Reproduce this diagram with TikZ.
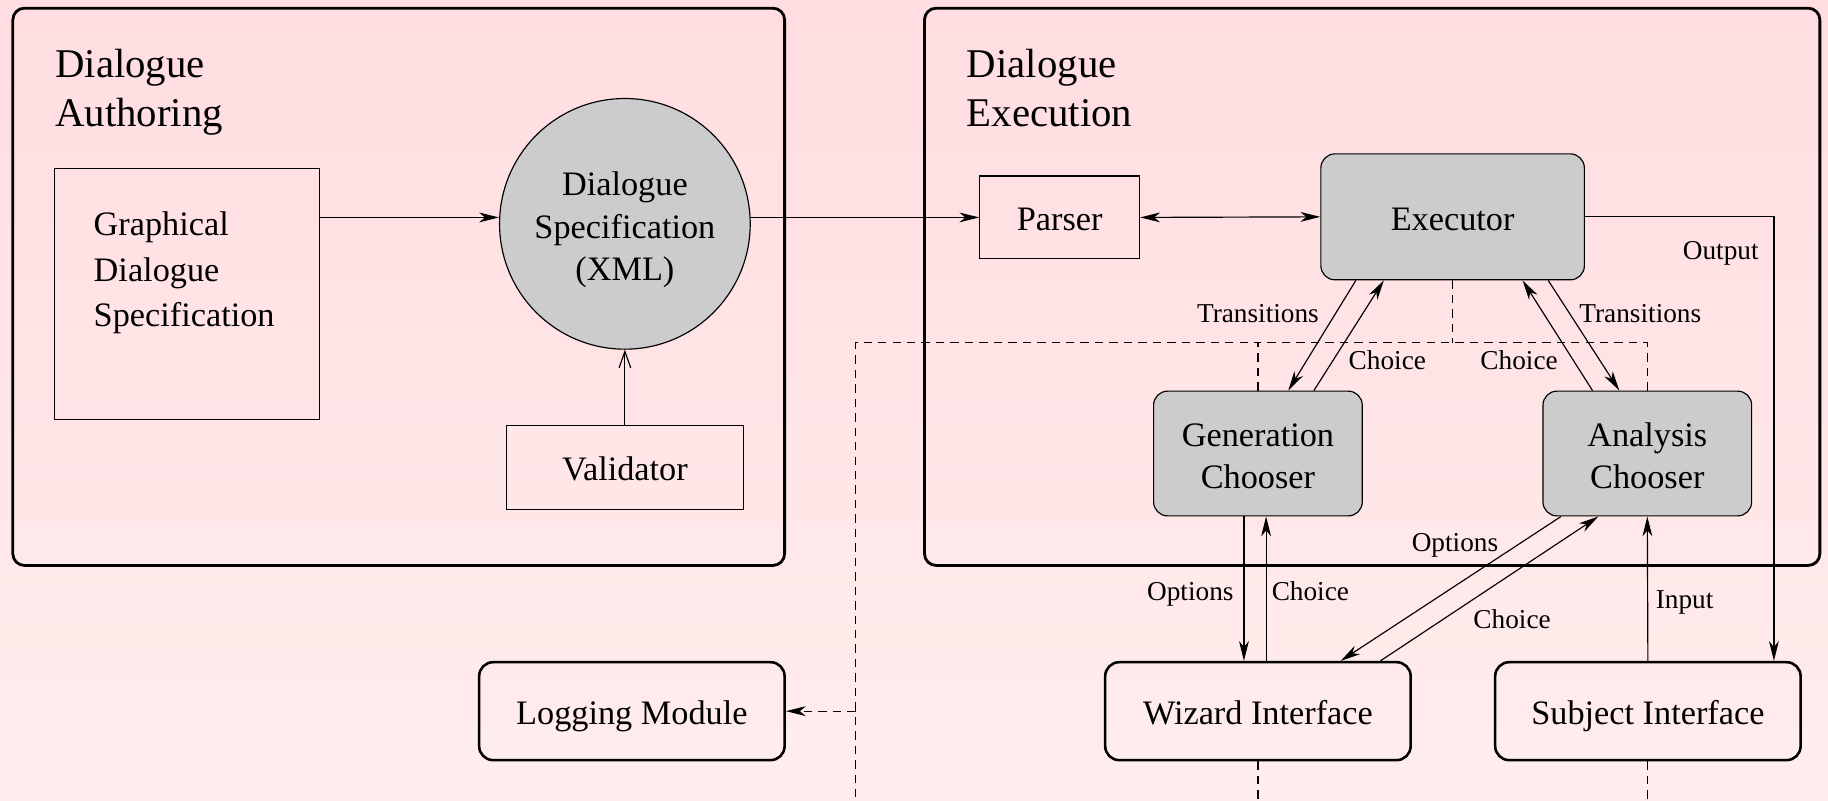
\documentclass[tikz,border=0pt]{standalone}
\usepackage{fontspec}
\setmainfont{Liberation Serif}
\usetikzlibrary{shapes.geometric,arrows.meta}
\usepackage{xcolor}
\definecolor{chgray}{RGB}{204,204,204}
\definecolor{bgtop}{RGB}{255,221,224}
\definecolor{bgbot}{RGB}{255,237,237}

\begin{document}
\begin{tikzpicture}
    \tikzset{
        x=0.5pt,
        y=-0.5pt,
        >={Stealth[length=8.5pt,width=4.2pt,inset=2.5pt]},
        panel/.style={draw,line width=1.2pt,rounded corners=5pt},
        title/.style={anchor=north west,align=left,inner sep=0pt,
            font=\fontsize{17.5}{21}\selectfont},
        plain/.style={draw,line width=0.5pt,inner sep=0pt,
            font=\fontsize{14.7}{18.5}\selectfont},
        oneline/.style={text height=14pt,text depth=2.6pt},
        chooser/.style={plain,fill=chgray,rounded corners=6pt,align=center,
            minimum width=89.5pt,minimum height=53.5pt,
            font=\fontsize{14.7}{17.75}\selectfont},
        iface/.style={plain,oneline,line width=1.1pt,rounded corners=6pt,
            minimum width=131pt,minimum height=42pt},
        lbl/.style={inner sep=0pt,text depth=0pt,font=\fontsize{11.7}{14}\selectfont},
        conn/.style={->,line width=0.5pt},
        logline/.style={dash pattern=on 3.6pt off 2.6pt,line width=0.5pt}
    }
    \useasboundingbox (0,0) rectangle (1568,687);
    \shade[top color=bgtop,bottom color=bgbot] (0,0) rectangle (1568,687);
    % the two panels
    \draw[panel] (11,7) rectangle (673,485);
    \draw[panel] (793,7) rectangle (1561,485);
    \node[title] (authttl) at (47,42) {Dialogue\\Authoring};
    \node[title] (execttl) at (829,42) {Dialogue\\Execution};

    \node[plain,minimum width=113.5pt,minimum height=107.5pt] (graph) at (160.5,252) {};
    \node[anchor=west,align=left,inner sep=0pt,font=\fontsize{14.7}{19.6}\selectfont]
        (graphtxt) at (80,234) {Graphical\\Dialogue\\Specification};
    \node[plain,circle,fill=chgray,minimum size=107.5pt,align=center,
        font=\fontsize{14.7}{18.2}\selectfont] (spec)
        at (536,192) {\rule{0pt}{15.6pt}Dialogue\\Specification\\(XML)};
    \node[plain,oneline,minimum width=101.5pt,minimum height=36pt] (valid) at (536,401) {Validator};
    \node[plain,oneline,minimum width=68.5pt,minimum height=35.5pt] (parser) at (909,186.5) {Parser};
    \node[chooser,oneline,minimum width=113pt,minimum height=54pt] (exec) at (1246,186) {Executor};
    \node[chooser] (gen) at (1079,389) {\rule{0pt}{12pt}Generation\\Chooser};
    \node[chooser] (ana) at (1413,389) {\rule{0pt}{12pt}Analysis\\Chooser};
    \node[iface] (log) at (542,610) {Logging Module};
    \node[iface] (wiz) at (1079,610) {Wizard Interface};
    \node[iface] (subj) at (1413.5,610) {Subject Interface};

    % labels
    \node[lbl] (transl) at (1079,269) {Transitions};
    \node[lbl] (choicel) at (1190,309) {Choice};
    \node[lbl] (transr) at (1407,269) {Transitions};
    \node[lbl] (choicer) at (1303,309) {Choice};
    \node[lbl] (outlbl) at (1476,215) {Output};
    \node[lbl] (optg) at (1021,507) {Options};
    \node[lbl] (choiceg) at (1124,507) {Choice};
    \node[lbl] (opta) at (1248,465) {Options};
    \node[lbl] (choicea) at (1297,531) {Choice};
    \node[lbl] (inlbl) at (1445,514) {Input};

    % connectors
    \draw[conn] (graph.east |- parser) -- (spec.west |- parser);
    \draw[-{Straight Barb[length=7pt,width=5pt]},line width=0.5pt] (valid.north) -- (spec.south);
    \draw[conn] (spec.east |- parser) -- (parser.west);
    \draw[conn,<->] (parser.east) -- (exec.west);
    \draw[conn] ([xshift=-41.5pt]exec.south) -- ([xshift=13pt]gen.north);
    \draw[conn] ([xshift=24pt]gen.north) -- ([xshift=-29.5pt]exec.south);
    \draw[conn] ([xshift=-23.5pt]ana.north) -- ([xshift=30pt]exec.south);
    \draw[conn] ([xshift=41pt]exec.south) -- ([xshift=-12pt]ana.north);
    \draw[conn] ([xshift=-6pt]gen.south) -- ([xshift=-6pt]wiz.north);
    \draw[conn] ([xshift=3.5pt]wiz.north) -- ([xshift=3.5pt]gen.south);
    \draw[conn] ([xshift=-37pt]ana.south) -- ([xshift=35.5pt]wiz.north);
    \draw[conn] ([xshift=52.5pt]wiz.north) -- ([xshift=-21pt]ana.south);
    \draw[conn] (subj.north) -- (ana.south);
    \draw[conn] (exec.east) -| ([xshift=-12pt]subj.north east);

    % logging lines
    \coordinate (busl) at (734,294);
    \coordinate (buse) at (734,687);
    \draw[logline] (exec.south) -- (exec.south |- busl);
    \draw[logline] (gen.north) |- (busl) -- (buse);
    \draw[logline] (ana.north) |- (gen.north |- busl);
    \draw[logline,->] (busl |- log.east) -- (log.east);
    \draw[logline] (wiz.south) -- (wiz.south |- buse);
    \draw[logline] (subj.south) -- (subj.south |- buse);
\end{tikzpicture}
\end{document}
